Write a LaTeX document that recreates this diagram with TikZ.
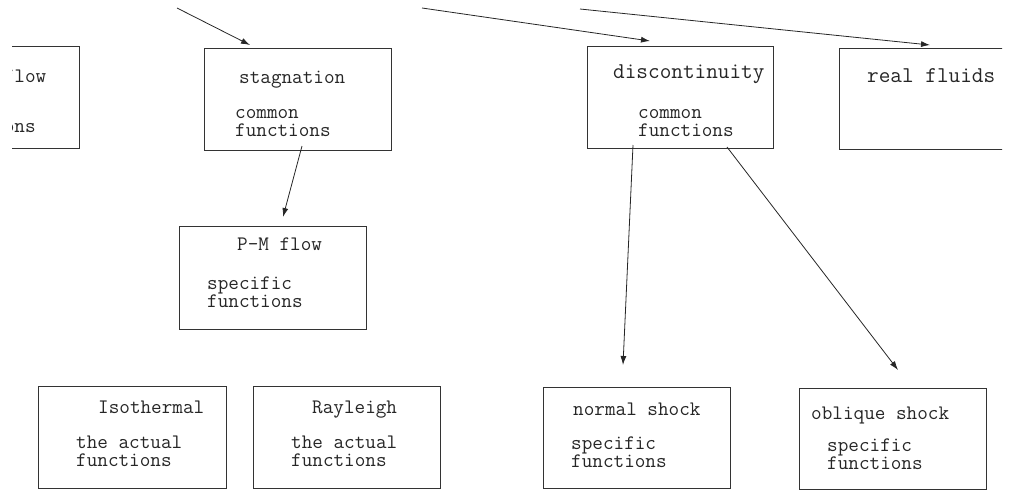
\documentclass[tikz,border=0pt]{standalone}
\usepackage{fontspec}
\usetikzlibrary{arrows.meta}
\tikzset{
  box/.style={draw=black!80, line width=1.1pt, inner sep=0pt, anchor=north west},
  txt/.style={anchor=base west, inner sep=0pt, text=black!85, font=\ttfamily\fontsize{20.6}{20}\selectfont},
  bigtxt/.style={txt, font=\ttfamily\fontsize{22.6}{22}\selectfont},
  arr/.style={draw=black!85, line width=0.8pt, -{Latex[length=9pt,width=6pt]}}
}
\begin{document}
\begin{tikzpicture}[x=1pt,y=-1pt]
\useasboundingbox (0,0) rectangle (1011,493);
\clip (12,0) rectangle (1002,493);
% boxes
\node[box, minimum width=159pt, minimum height=102pt] (fanno) at (-80,46) {};
\node[box, minimum width=187pt, minimum height=102pt] (stag) at (204,48) {};
\node[box, minimum width=186pt, minimum height=102pt] (disc) at (587,46) {};
\node[box, minimum width=190pt, minimum height=101pt] (real) at (839,48) {};
\node[box, minimum width=187pt, minimum height=103pt] (pm) at (179,226) {};
\node[box, minimum width=188pt, minimum height=102pt] (iso) at (38,386) {};
\node[box, minimum width=187pt, minimum height=102pt] (ray) at (253,386) {};
\node[box, minimum width=187pt, minimum height=101pt] (norm) at (543,387) {};
\node[box, minimum width=187pt, minimum height=101pt] (obl) at (799,388) {};
% texts
\node[txt] (fannoT) at (-60,82) {Fanno flow};
\node[txt] (fannoA) at (-60,114) {common};
\node[txt] (fannoB) at (-60,132) {functions};
\node[txt] (stagT) at (239,83) {stagnation};
\node[txt] (stagA) at (235,118) {common};
\node[txt] (stagB) at (235,136) {functions};
\node[bigtxt] (discT) at (613,78) {discontinuity};
\node[txt] (discA) at (638,118) {common};
\node[txt] (discB) at (638,136) {functions};
\node[bigtxt] (realT) at (867,82) {real fluids};
\node[txt] (pmT) at (237,250) {P-M flow};
\node[txt] (pmA) at (207,289) {specific};
\node[txt] (pmB) at (207,307) {functions};
\node[txt] (isoT) at (98,413) {Isothermal};
\node[txt] (isoA) at (76,448) {the actual};
\node[txt] (isoB) at (76,466) {functions};
\node[txt] (rayT) at (312,413) {Rayleigh};
\node[txt] (rayA) at (291,448) {the actual};
\node[txt] (rayB) at (291,466) {functions};
\node[txt] (normT) at (573,415) {normal shock};
\node[txt] (normA) at (571,449) {specific};
\node[txt] (normB) at (571,467) {functions};
\node[txt] (oblT) at (811,419) {oblique shock};
\node[txt] (oblA) at (827,451) {specific};
\node[txt] (oblB) at (827,469) {functions};
% connector end points
\coordinate (s1) at (177,8);   \coordinate (e1) at (250,45);
\coordinate (s2) at (422,8);   \coordinate (e2) at (650,41);
\coordinate (s3) at (580,9);   \coordinate (e3) at (930,45);
\coordinate (s4) at (302,146); \coordinate (e4) at (283,217);
\coordinate (s5) at (633,145); \coordinate (e5) at (623,365);
\coordinate (s6) at (727,147); \coordinate (e6) at (898,370);
\draw[arr] (s1) -- (e1);
\draw[arr] (s2) -- (e2);
\draw[arr] (s3) -- (e3);
\draw[arr] (s4) -- (e4);
\draw[arr] (s5) -- (e5);
\draw[arr] (s6) -- (e6);
\end{tikzpicture}
\end{document}
